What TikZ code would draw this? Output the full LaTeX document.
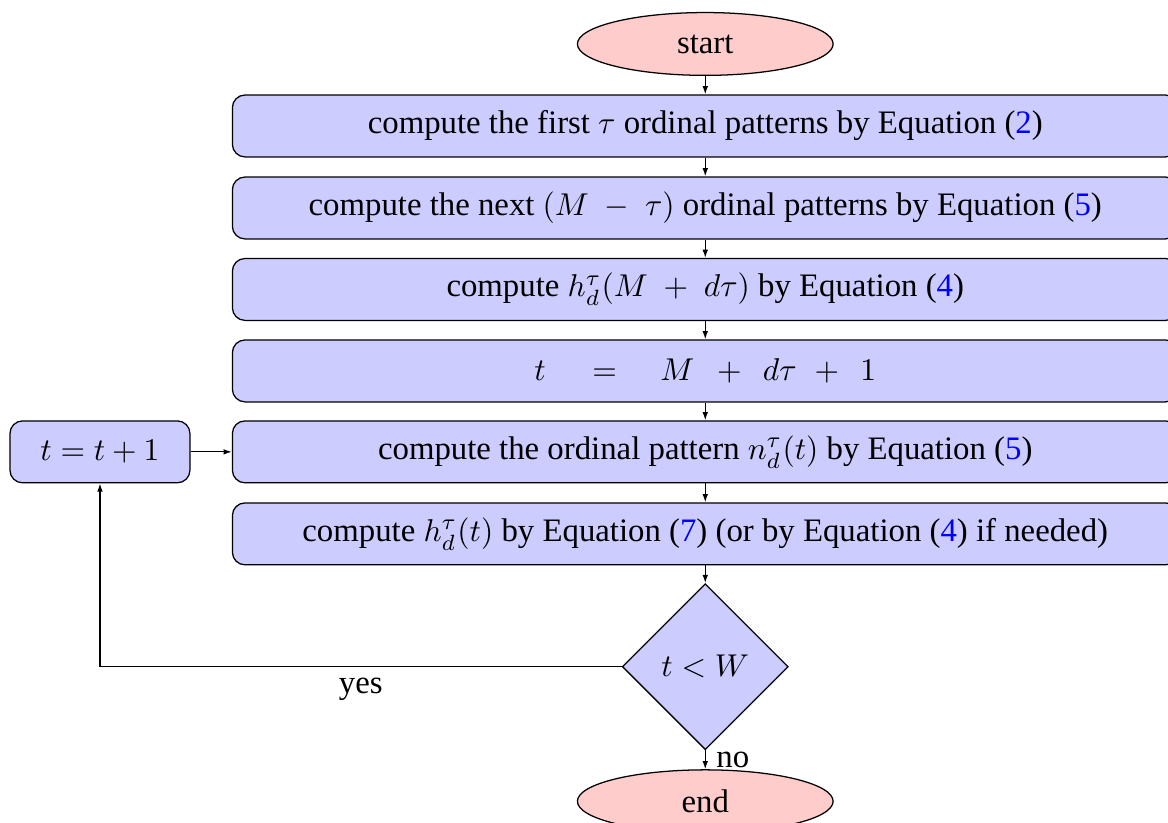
\documentclass[tikz,border=0pt]{standalone}
\usepackage[no-math]{fontspec}
\setmainfont{Liberation Serif}
\usepackage{amsmath}
\usetikzlibrary{arrows.meta,positioning,shapes.geometric}
\definecolor{linkc}{HTML}{0000FF}
\colorlet{pc}{blue!20}
\colorlet{tc}{red!20}
\newcommand{\eqn}[1]{(\textcolor{linkc}{#1})}
\tikzset{term/.style={ellipse,draw,fill=tc,minimum width=2.85cm,minimum height=.70cm,inner sep=0pt},
  proc/.style={rectangle,rounded corners,draw,fill=pc,minimum width=10.54cm,minimum height=.69cm,inner sep=0pt},
  dec/.style={diamond,draw,fill=pc,minimum size=1.85cm,aspect=1,inner sep=0pt},
  wire/.style={draw,-{Latex[length=2.6pt,width=1.8pt]}}}

\begin{document}
\begin{tikzpicture}[font=\fontsize{10.4}{12.5}\selectfont]
\useasboundingbox (0,0) rectangle (13.017,-9.172);
\node[term] (start) at (7.86,-.49) {start};
\foreach \n/\y/\txt in {1/-1.404/{compute the first $\tau$ ordinal patterns by Equation \eqn{2}},
  2/-2.318/{compute the next $(M\;-\;\tau)$ ordinal patterns by Equation \eqn{5}},
  3/-3.226/{compute $h_d^\tau(M\;+\;d\tau)$ by Equation \eqn{4}},
  4/-4.134/{$t\hspace{12pt}=\hspace{11pt}M\hspace{5pt}+\hspace{4.5pt}d\tau\hspace{3.5pt}+\hspace{4.5pt}1$},
  5/-5.036/{compute the ordinal pattern $n_d^\tau(t)$ by Equation \eqn{5}},
  6/-5.950/{compute $h_d^\tau(t)$ by Equation \eqn{7} (or by Equation \eqn{4} if needed)}}{
 \node[proc] (p\n) at (7.86,\y) {\txt};}
\node[proc,minimum width=2.006cm] (inc) at (1.114,-5.036) {$t=t+1$};
\node[dec] (test) at (7.86,-7.43) {$t<W$};
\node[term] (end) at (7.86,-8.93) {end};

\draw[wire] (start) -- (p1);
\foreach \a/\b in {1/2,2/3,3/4,4/5,5/6}{
 \draw[wire] (p\a) -- (p\b);}
\draw[wire] (p6) -- (test);
\draw[wire] (test) -- node[right]{no} (end);
\draw[wire] (test) -| node[below,pos=.25]{yes} (inc);
\draw[wire] (inc) -- (p5);
\end{tikzpicture}
\end{document}
